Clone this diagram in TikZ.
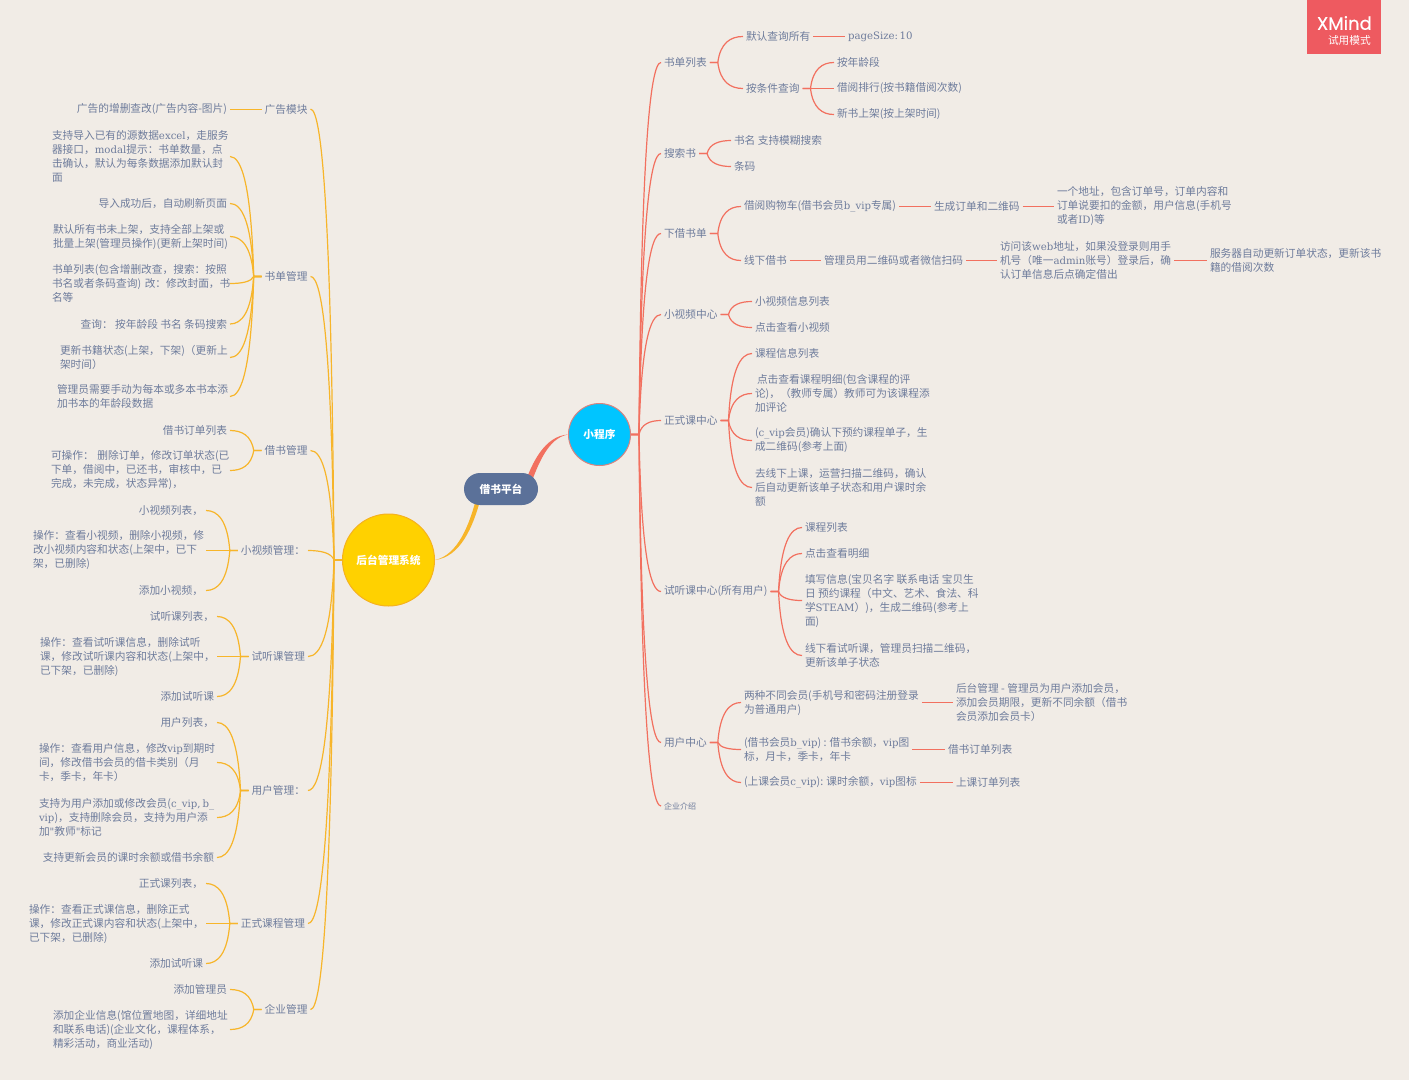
\documentclass[tikz,border=0pt]{standalone}
\usepackage{fontspec}
\setmainfont{Noto Sans CJK SC}
\newfontfamily\latfont{DejaVu Serif}[Scale=0.95]
\newfontfamily\xmfont{Poppins}[FakeBold=0.5]
\usetikzlibrary{calc,backgrounds,shapes.misc}
\definecolor{bgc}{HTML}{F1ECE6}
\definecolor{txtc}{HTML}{6E7C9C}
\definecolor{salm}{HTML}{F2705F}
\definecolor{ambr}{HTML}{F7B52A}
\definecolor{cenc}{HTML}{5B7199}
\definecolor{miniC}{HTML}{00C5FF}
\definecolor{miniB}{HTML}{D8837F}
\definecolor{admC}{HTML}{FFD100}
\definecolor{admB}{HTML}{F5B21F}
\definecolor{xmc}{HTML}{EE5A60}
\newcommand\la[1]{{\latfont #1}}
\tikzset{
  txtn/.style={inner sep=0pt,outer sep=3pt,text=txtc,align=left,font=\fontsize{10.7}{14}\selectfont},
  linkR/.style={draw=salm,line width=1.2pt},
  linkL/.style={draw=ambr,line width=1.2pt},
  hub/.style={circle,inner sep=0pt,text=white,line width=1pt,font=\fontsize{10.7}{14}\selectfont\bfseries}
}
\newcommand\Rn[4]{\node[txtn,anchor=west] (#1) at ({#2-3},{#3+0.5}) {#4};}
\newcommand\Ln[4]{\node[txtn,anchor=east] (#1) at ({#2+3},{#3+0.5}) {#4};}
\newcommand\Lb[5]{\node[txtn,anchor=east,text width=#4pt] (#1) at ({#2+3},{#3+0.5}) {#5};}
\newcommand\Rl[2]{\draw[linkR] let \p1=(#1.east),\p2=(#2.west) in (\p1) -- ({\x1+8pt},\y1) .. controls ({\x1+8pt+0.1*(\x2-\x1-8pt)},{\y1+0.75*(\y2-\y1)}) and ({\x1+8pt+0.5*(\x2-\x1-8pt)},\y2) .. (\p2);}
\newcommand\Ll[2]{\draw[linkL] let \p1=(#1.west),\p2=(#2.east) in (\p1) -- ({\x1-8pt},\y1) .. controls ({\x1-8pt+0.1*(\x2-\x1+8pt)},{\y1+0.75*(\y2-\y1)}) and ({\x1-8pt+0.5*(\x2-\x1+8pt)},\y2) .. (\p2);}
\begin{document}
\begin{tikzpicture}[x=1pt,y=-1pt]
\useasboundingbox (0,0) rectangle (1409,1080);
\begin{scope}[on background layer]
\fill[bgc] (0,0) rectangle (1409,1080);
\end{scope}
% hubs
\node[rounded rectangle,minimum width=74pt,minimum height=32pt,inner sep=0pt,fill=cenc,text=white,font=\fontsize{10.7}{14}\selectfont\bfseries] (cen) at (501,489) {借书平台};
\node[hub,fill=miniC,draw=miniB,minimum size=62pt] (mini) at (599.5,434.5) {小程序};
\node[hub,fill=admC,draw=admB,minimum size=92pt] (adm) at (388.5,560) {后台管理系统};
% xmind badge
\fill[xmc] (1307,0) rectangle (1381,54);
\node[inner sep=0pt,text=white,anchor=east,font=\xmfont\fontsize{18}{18}\selectfont] (xm) at (1372,23) {XMind};
\node[inner sep=0pt,text=white,anchor=east,font=\fontsize{10.7}{12}\selectfont] (xmt) at (1371,40) {试用模式};
% right side, first level
\Rn{r1}{664}{62}{书单列表}
\Rn{r2}{664}{153}{搜索书}
\Rn{r3}{664}{233}{下借书单}
\Rn{r4}{664}{314}{小视频中心}
\Rn{r5}{664}{420}{正式课中心}
\Rn{r6}{664}{591}{试听课中心(所有用户)}
\Rn{r7}{664}{742}{用户中心}
\node[txtn,anchor=west,font=\fontsize{8}{10}\selectfont] (r8) at (661,806) {企业介绍};
% 书单列表
\Rn{r1a}{746}{36}{默认查询所有}
\Rn{r1a1}{848}{36}{\la{pageSize:\hspace{1.5pt}10}}
\Rn{r1b}{746}{88}{按条件查询}
\Rn{r1b1}{837}{62}{按年龄段}
\Rn{r1b2}{837}{88}{借阅排行(按书籍借阅次数)}
\Rn{r1b3}{837}{114}{新书上架(按上架时间)}
% 搜索书
\Rn{r2a}{734}{140}{书名 支持模糊搜索}
\Rn{r2b}{734}{166}{条码}
% 下借书单
\Rn{r3a}{744}{206}{借阅购物车(借书会员\la{b\_vip}专属)}
\Rn{r3a1}{934}{206}{生成订单和二维码}
\Rn{r3a2}{1057}{206}{一个地址，包含订单号，订单内容和\\订单说要扣的金额，用户信息(手机号\\或者\la{ID})等}
\Rn{r3b}{744}{260}{线下借书}
\Rn{r3b1}{824}{260}{管理员用二维码或者微信扫码}
\Rn{r3b2}{1000}{260}{访问该\la{web}地址，如果没登录则用手\\机号（唯一\la{admin}账号）登录后，确\\认订单信息后点确定借出}
\Rn{r3b3}{1210}{260}{服务器自动更新订单状态，更新该书\\籍的借阅次数}
% 小视频中心
\Rn{r4a}{755}{301}{小视频信息列表}
\Rn{r4b}{755}{327}{点击查看小视频}
% 正式课中心
\Rn{r5a}{755}{353}{课程信息列表}
\Rn{r5b}{755}{393}{\hspace{2pt}点击查看课程明细(包含课程的评\\论)，（教师专属）教师可为该课程添\\加评论}
\Rn{r5c}{755}{440}{(\la{c\_vip}会员)确认下预约课程单子，生\\成二维码(参考上面)}
\Rn{r5d}{755}{487}{去线下上课，运营扫描二维码，确认\\后自动更新该单子状态和用户课时余\\额}
% 试听课中心
\Rn{r6a}{805}{527}{课程列表}
\Rn{r6b}{805}{553}{点击查看明细}
\Rn{r6c}{805}{600}{填写信息(宝贝名字 联系电话 宝贝生\\日 预约课程（中文、艺术、食法、科\\学\la{STEAM}）)，生成二维码(参考上\\面)}
\Rn{r6d}{805}{655}{线下看试听课，管理员扫描二维码，\\更新该单子状态}
% 用户中心
\Rn{r7a}{744}{702}{两种不同会员(手机号和密码注册登录\\为普通用户)}
\Rn{r7a1}{956}{702}{后台管理 - 管理员为用户添加会员，\\添加会员期限，更新不同余额（借书\\会员添加会员卡）}
\Rn{r7b}{744}{749}{(借书会员\la{b\_vip}) : 借书余额，\la{vip}图\\标，月卡，季卡，年卡}
\Rn{r7b1}{948}{749}{借书订单列表}
\Rn{r7c}{744}{782}{(上课会员\la{c\_vip}): 课时余额，\la{vip}图标}
\Rn{r7c1}{956}{782}{上课订单列表}
% left side, first level
\Ln{l1}{307.5}{108.6}{广告模块}
\Ln{l2}{307.5}{276}{书单管理}
\Ln{l3}{307.5}{450}{借书管理}
\Ln{l4}{305}{550}{小视频管理：}
\Ln{l5}{305}{656}{试听课管理}
\Ln{l6}{305}{790}{用户管理：}
\Ln{l7}{305}{923}{正式课程管理}
\Ln{l8}{307.5}{1009}{企业管理}
% 广告模块
\Ln{l1a}{227}{108.6}{广告的增删查改(广告内容-图片)}
% 书单管理
\Lb{l2a}{227}{156}{175}{支持导入已有的源数据\la{excel}，走服务\\器接口，\la{modal}提示：书单数量，点\\击确认，默认为每条数据添加默认封\\面}
\Ln{l2b}{227}{203}{导入成功后，自动刷新页面}
\Lb{l2c}{227}{236}{174}{默认所有书未上架，支持全部上架或\\批量上架(管理员操作)(更新上架时间)}
\Lb{l2d}{227}{283}{175}{书单列表(包含增删改查，搜索：按照\\书名或者条码查询)~改：修改封面，书\\名等}
\Ln{l2e}{227}{323.5}{查询： 按年龄段 书名 条码搜索}
\Lb{l2f}{227}{357}{167}{更新书籍状态(上架，下架)（更新上\\架时间）}
\Lb{l2g}{227}{396}{170}{管理员需要手动为每本或多本书本添\\加书本的年龄段数据}
% 借书管理
\Ln{l3a}{227}{430}{借书订单列表}
\Lb{l3b}{227}{470}{176}{可操作：~删除订单，修改订单状态(已\\下单，借阅中，已还书，审核中，已\\完成，未完成，状态异常)，}
% 小视频管理
\Ln{l4a}{203}{510}{小视频列表，}
\Lb{l4b}{203}{550}{170}{操作：查看小视频，删除小视频，修\\改小视频内容和状态(上架中，已下\\架，已删除)}
\Ln{l4c}{203}{590}{添加小视频，}
% 试听课管理
\Ln{l5a}{214}{616}{试听课列表，}
\Lb{l5b}{214}{656}{174}{操作：查看试听课信息，删除试听\\课，修改试听课内容和状态(上架中，\\已下架，已删除)}
\Ln{l5c}{214}{696}{添加试听课}
% 用户管理
\Ln{l6a}{214}{722}{用户列表，}
\Lb{l6b}{214}{762}{175}{操作：查看用户信息，修改\la{vip}到期时\\间，修改借书会员的借卡类别（月\\卡，季卡，年卡）}
\Lb{l6c}{214}{817}{175}{支持为用户添加或修改会员(\la{c\_vip,\kern2pt b\_}\\\la{vip})，支持删除会员，支持为用户添\\加\la{"}教师\la{"}标记}
\Ln{l6d}{214}{857}{支持更新会员的课时余额或借书余额}
% 正式课程管理
\Ln{l7a}{203}{883}{正式课列表，}
\Lb{l7b}{203}{923}{174}{操作：查看正式课信息，删除正式\\课，修改正式课内容和状态(上架中，\\已下架，已删除)}
\Ln{l7c}{203}{963}{添加试听课}
% 企业管理
\Ln{l8a}{227}{989}{添加管理员}
\Lb{l8b}{227}{1029}{174}{添加企业信息(馆位置地图，详细地址\\和联系电话)(企业文化，课程体系，\\精彩活动，商业活动)}
% connectors
\begin{scope}[on background layer]
\coordinate (tr1) at (524,486);
\coordinate (tr2) at (529,489);
\fill[salm] (tr1) .. controls (532,462) and (545,436) .. (mini.west) .. controls (548,438) and (538,464) .. (tr2) -- cycle;
\coordinate (tl1) at (477,495);
\coordinate (tl2) at (481,497);
\fill[ambr] (tl1) .. controls (470,524) and (458,555) .. (adm.east) .. controls (460,557) and (473,528) .. (tl2) -- cycle;
\foreach \c in {r1,r2,r3,r4,r5,r6,r7,r8}{\Rl{mini}{\c}}
\Rl{r1}{r1a}\Rl{r1}{r1b}\Rl{r1a}{r1a1}\Rl{r1b}{r1b1}\Rl{r1b}{r1b2}\Rl{r1b}{r1b3}
\Rl{r2}{r2a}\Rl{r2}{r2b}
\Rl{r3}{r3a}\Rl{r3}{r3b}\Rl{r3a}{r3a1}\Rl{r3a1}{r3a2}\Rl{r3b}{r3b1}\Rl{r3b1}{r3b2}\Rl{r3b2}{r3b3}
\Rl{r4}{r4a}\Rl{r4}{r4b}
\Rl{r5}{r5a}\Rl{r5}{r5b}\Rl{r5}{r5c}\Rl{r5}{r5d}
\Rl{r6}{r6a}\Rl{r6}{r6b}\Rl{r6}{r6c}\Rl{r6}{r6d}
\Rl{r7}{r7a}\Rl{r7}{r7b}\Rl{r7}{r7c}\Rl{r7a}{r7a1}\Rl{r7b}{r7b1}\Rl{r7c}{r7c1}
\foreach \c in {l1,l2,l3,l4,l5,l6,l7,l8}{\Ll{adm}{\c}}
\Ll{l1}{l1a}
\foreach \c in {l2a,l2b,l2c,l2d,l2e,l2f,l2g}{\Ll{l2}{\c}}
\Ll{l3}{l3a}\Ll{l3}{l3b}
\Ll{l4}{l4a}\Ll{l4}{l4b}\Ll{l4}{l4c}
\Ll{l5}{l5a}\Ll{l5}{l5b}\Ll{l5}{l5c}
\Ll{l6}{l6a}\Ll{l6}{l6b}\Ll{l6}{l6c}\Ll{l6}{l6d}
\Ll{l7}{l7a}\Ll{l7}{l7b}\Ll{l7}{l7c}
\Ll{l8}{l8a}\Ll{l8}{l8b}
\end{scope}
\end{tikzpicture}
\end{document}
